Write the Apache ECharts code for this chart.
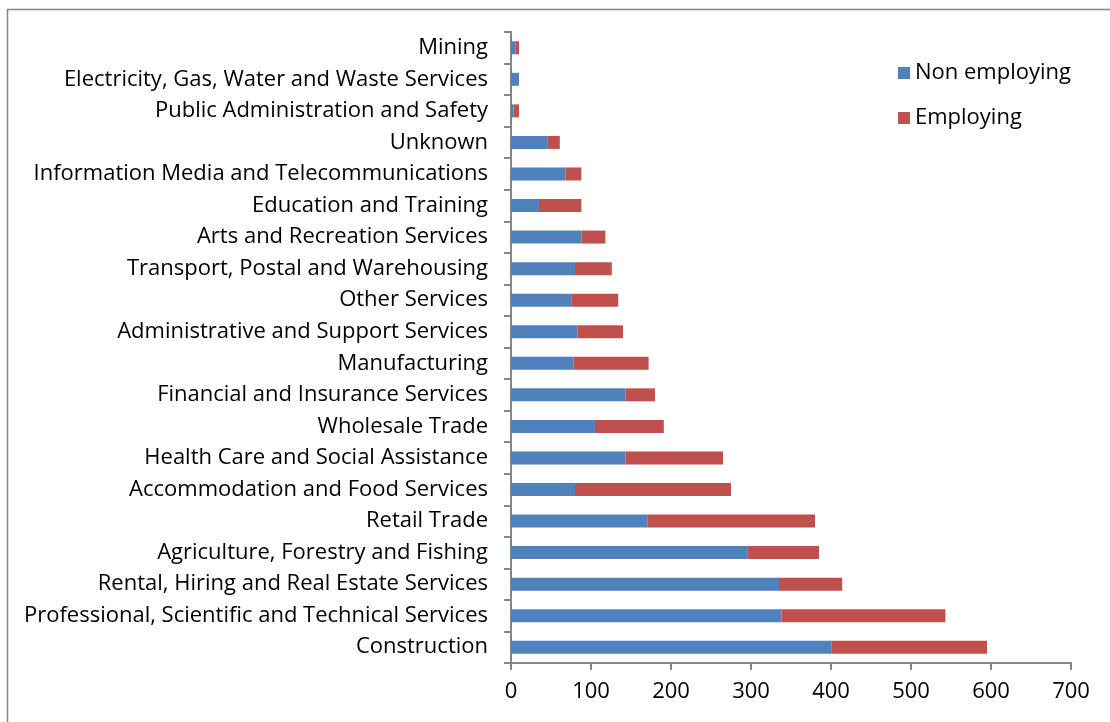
<!DOCTYPE html>
<html><head><meta charset="utf-8">
<script src="https://cdn.jsdelivr.net/npm/echarts@6/dist/echarts.min.js"></script>
<style>html,body{margin:0;padding:0;background:#fff}#c{width:1110px;height:722px}</style>
</head><body><div id="c"></div>
<script>
const categories = ["Mining","Electricity, Gas, Water and Waste Services","Public Administration and Safety","Unknown","Information Media and Telecommunications","Education and Training","Arts and Recreation Services","Transport, Postal and Warehousing","Other Services","Administrative and Support Services","Manufacturing","Financial and Insurance Services","Wholesale Trade","Health Care and Social Assistance","Accommodation and Food Services","Retail Trade","Agriculture, Forestry and Fishing","Rental, Hiring and Real Estate Services","Professional, Scientific and Technical Services","Construction"];
const nonEmploying = [6,10,3,46,68,35,88,80,76,83,78,143,105,143,80,171,296,335,338,401];
const employing = [4,0,7,15,20,53,30,46,58,57,94,37,86,122,195,209,89,79,205,194];
const seriesNames = ["Non employing","Employing"];
const font = "Open Sans";
const fs = 22;
const chart = echarts.init(document.getElementById('c'));
chart.setOption({
  animation:false,
  textStyle:{fontFamily:font},
  grid:{left:511,right:39,top:32,bottom:59},
  legend:{orient:'vertical',left:893,top:55,itemGap:19,itemWidth:12,itemHeight:12,icon:'rect',
    textStyle:{fontFamily:font,fontSize:fs,color:'#000',lineHeight:26},data:seriesNames},
  xAxis:{type:'value',min:0,max:700,interval:100,splitLine:{show:false},
    axisLine:{show:true,lineStyle:{color:'#868686',width:2}},
    axisTick:{show:true,length:7,lineStyle:{color:'#868686',width:2}},
    axisLabel:{fontFamily:font,fontSize:fs,color:'#000',margin:18}},
  yAxis:{type:'category',data:categories,inverse:true,
    axisLine:{show:true,lineStyle:{color:'#868686',width:2}},
    axisTick:{show:true,length:7,alignWithLabel:false,lineStyle:{color:'#868686',width:2}},
    axisLabel:{fontFamily:font,fontSize:fs,color:'#000',margin:23,padding:[4,0,0,0]}},
  series:[
    {name:seriesNames[0],type:'bar',stack:'a',data:nonEmploying,barWidth:13,itemStyle:{color:'#4F81BD'}},
    {name:seriesNames[1],type:'bar',stack:'a',data:employing,barWidth:13,itemStyle:{color:'#C0504D'}}
  ],
  graphic:[{type:'rect',shape:{x:7.5,y:9.5,width:1120,height:740},style:{fill:'none',stroke:'#868686',lineWidth:1.5},silent:true}]
});
</script></body></html>
